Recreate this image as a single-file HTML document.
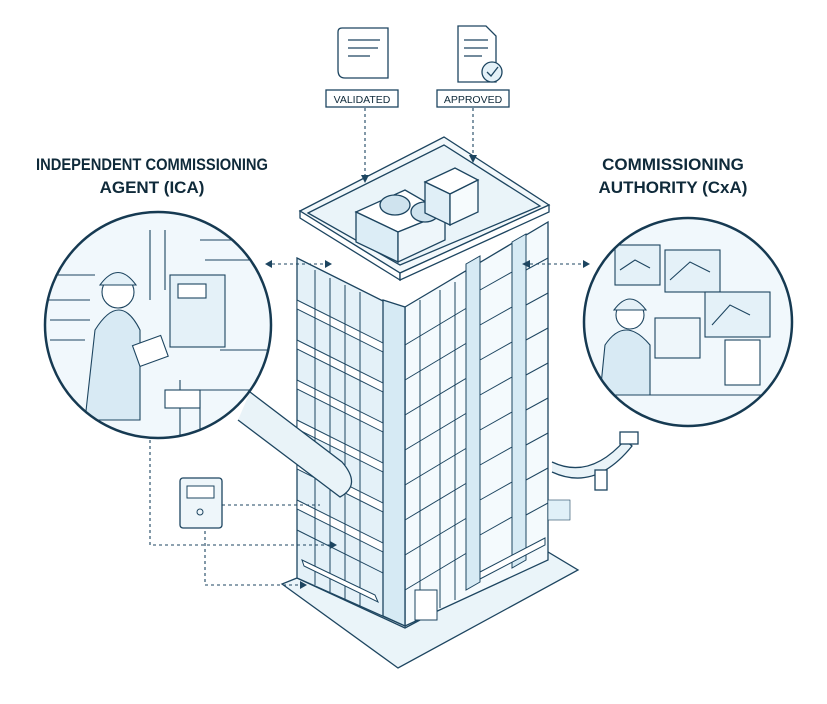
<!DOCTYPE html>
<html><head><meta charset="utf-8"><style>
html,body{margin:0;padding:0;background:#fff}
svg{display:block}
text{font-family:"Liberation Sans",sans-serif;fill:#0f2a3a}
</style></head><body>
<svg width="827" height="704" viewBox="0 0 827 704" xmlns="http://www.w3.org/2000/svg">
<defs>
<clipPath id="cl"><circle cx="158" cy="325" r="113"/></clipPath>
<clipPath id="cr"><circle cx="688" cy="322" r="104"/></clipPath>
</defs>
<g stroke="#1d4560" stroke-width="1.3" fill="none">
<polygon points="282,584 398,668 578,570 548,552 405,628 297,578" fill="#eaf4f9"/>
<polygon points="297,258 395,307 405,626 297,578" fill="#e4f1f8"/>
<polygon points="405,307 548,222 548,560 405,626" fill="#f4fafd"/>
<polygon points="383,300 405,307 405,626 383,616" fill="#d6eaf4"/>
<g stroke-width="1">
<polygon points="297,300 383,343 383,352 297,309" fill="#fff"/>
<polygon points="297,340 383,383 383,392 297,349" fill="#fff"/>
<polygon points="297,380 383,423 383,432 297,389" fill="#fff"/>
<polygon points="297,420 383,463 383,472 297,429" fill="#fff"/>
<polygon points="297,460 383,503 383,512 297,469" fill="#fff"/>
<polygon points="297,500 383,543 383,552 297,509" fill="#fff"/>
<line x1="297" y1="530" x2="383" y2="573"/>
<line x1="315" y1="270" x2="315" y2="585"/><line x1="330" y1="278" x2="330" y2="592"/>
<line x1="345" y1="285" x2="345" y2="599"/><line x1="360" y1="292" x2="360" y2="606"/>
<line x1="405" y1="345" x2="470" y2="306"/><line x1="405" y1="380" x2="470" y2="341"/>
<line x1="405" y1="415" x2="470" y2="376"/><line x1="405" y1="450" x2="470" y2="411"/>
<line x1="405" y1="485" x2="470" y2="446"/><line x1="405" y1="520" x2="470" y2="481"/>
<line x1="405" y1="555" x2="470" y2="516"/><line x1="405" y1="590" x2="470" y2="551"/>
<line x1="420" y1="300" x2="420" y2="618"/><line x1="440" y1="290" x2="440" y2="608"/>
<line x1="455" y1="282" x2="455" y2="600"/>
<polygon points="466,264 480,256 480,582 466,590" fill="#d6eaf4"/>
<polygon points="512,242 526,234 526,560 512,568" fill="#d6eaf4"/>
<line x1="480" y1="290" x2="512" y2="272"/><line x1="480" y1="325" x2="512" y2="307"/>
<line x1="480" y1="360" x2="512" y2="342"/><line x1="480" y1="395" x2="512" y2="377"/>
<line x1="480" y1="430" x2="512" y2="412"/><line x1="480" y1="465" x2="512" y2="447"/>
<line x1="480" y1="500" x2="512" y2="482"/><line x1="480" y1="535" x2="512" y2="517"/>
<line x1="526" y1="270" x2="548" y2="258"/><line x1="526" y1="305" x2="548" y2="293"/>
<line x1="526" y1="340" x2="548" y2="328"/><line x1="526" y1="375" x2="548" y2="363"/>
<line x1="526" y1="410" x2="548" y2="398"/><line x1="526" y1="445" x2="548" y2="433"/>
<line x1="526" y1="480" x2="548" y2="468"/><line x1="526" y1="515" x2="548" y2="503"/>
<rect x="415" y="590" width="22" height="30" fill="#fff"/>
<polygon points="302,560 375,595 378,602 304,566" fill="#fff"/>
<polygon points="480,572 545,538 545,545 480,579" fill="#fff"/>
</g>
<polygon points="300,211 444,137 549,205 400,273" fill="#f2f8fb"/>
<polygon points="308,213 444,145 540,206 400,265" fill="#eaf4f9"/>
<polygon points="300,211 400,273 400,280 300,218" fill="#fff"/>
<polygon points="400,273 549,205 549,212 400,280" fill="#fff"/>
<polygon points="356,212 405,190 445,213 398,232" fill="#fff"/>
<polygon points="356,212 398,232 398,262 356,242" fill="#dcedf6"/>
<polygon points="398,232 445,213 445,240 398,262" fill="#eef6fa"/>
<ellipse cx="395" cy="205" rx="15" ry="10" fill="#cfe3ee"/>
<ellipse cx="425" cy="212" rx="14" ry="10" fill="#cfe3ee"/>
<polygon points="425,182 455,168 478,180 450,194" fill="#fff"/>
<polygon points="425,182 450,194 450,225 425,213" fill="#e0eff7"/>
<polygon points="450,194 478,180 478,212 450,225" fill="#f6fbfd"/>
<path d="M250,392 L342,462 Q362,485 340,497 L238,420" fill="#e9f3f8"/>
<path d="M552,462 Q590,480 625,440 L632,446 Q595,492 552,472" fill="#e9f3f8"/>
<rect x="595" y="470" width="12" height="20" fill="#fff"/>
<rect x="620" y="432" width="18" height="12" fill="#fff"/>
<rect x="548" y="500" width="22" height="20" stroke-width="0.6" fill="#e0f0f8"/>
</g>
<circle cx="158" cy="325" r="113" fill="#f1f8fc"/>
<g clip-path="url(#cl)" stroke="#1d4560" stroke-width="1.1" fill="none">
<path d="M40,275 H95 M40,300 H90 M150,230 V300 M165,230 V290 M200,240 H260 M205,260 H260 M220,350 H270 M180,380 V440 M195,390 H260 M200,400 V440 M50,320 H90 M50,340 H85"/>
<rect x="170" y="275" width="55" height="72" fill="#e4f1f8"/>
<rect x="178" y="284" width="28" height="14" fill="#fff"/>
<path d="M95,330 Q120,290 140,330 V420 H85 Z" fill="#d8eaf4"/>
<circle cx="118" cy="292" r="16" fill="#fff"/>
<path d="M100,285 Q118,260 136,285 Z" fill="#e4f1f8"/>
<rect x="135" y="340" width="30" height="22" fill="#fff" transform="rotate(-20 150 350)"/>
<rect x="165" y="390" width="35" height="18" fill="#fff"/>
</g>
<circle cx="158" cy="325" r="113" stroke="#163a52" stroke-width="2.5" fill="none"/>
<circle cx="688" cy="322" r="104" fill="#f1f8fc"/>
<g clip-path="url(#cr)" stroke="#1d4560" stroke-width="1.1" fill="none">
<rect x="615" y="245" width="45" height="40" fill="#e4f1f8"/>
<rect x="665" y="250" width="55" height="42" fill="#e4f1f8"/>
<rect x="705" y="292" width="65" height="45" fill="#e4f1f8"/>
<rect x="655" y="318" width="45" height="40" fill="#eef6fa"/>
<rect x="725" y="340" width="35" height="45" fill="#fff"/>
<path d="M620,270 L635,260 L650,268 M670,280 L690,262 L710,272 M712,325 L730,305 L750,315"/>
<path d="M605,345 Q625,315 650,345 V395 H600 Z" fill="#d8eaf4"/>
<circle cx="630" cy="315" r="14" fill="#fff"/>
<path d="M614,310 Q630,288 646,310 Z" fill="#e4f1f8"/>
<path d="M590,395 H790"/>
</g>
<circle cx="688" cy="322" r="104" stroke="#163a52" stroke-width="2.5" fill="none"/>
<g stroke="#1d4560" stroke-width="1.1" fill="none" stroke-dasharray="3,3">
<path d="M365,108 V175"/><path d="M473,108 V155"/>
<path d="M272,264 H325"/>
<path d="M530,264 H585"/>
<path d="M150,440 V545 H330"/>
<path d="M205,525 V585 H300"/>
<path d="M222,505 H320"/>
</g>
<g fill="#1d4560">
<polygon points="361,175 369,175 365,183"/><polygon points="469,155 477,155 473,163"/>
<polygon points="265,264 272,260 272,268"/><polygon points="332,264 325,260 325,268"/>
<polygon points="522,264 530,260 530,268"/><polygon points="590,264 583,260 583,268"/>
<polygon points="300,581 300,589 307,585"/><polygon points="330,541 330,549 337,545"/>
</g>
<rect x="180" y="478" width="42" height="50" rx="3" fill="#eef6fa" stroke="#1d4560" stroke-width="1.3"/>
<rect x="187" y="486" width="27" height="12" fill="#fff" stroke="#1d4560"/>
<circle cx="200" cy="512" r="3" fill="none" stroke="#1d4560"/>
<g stroke="#1d4560" stroke-width="1.3" fill="#fff">
<path d="M342,28 H388 V78 H345 Q338,78 338,70 V32 Q338,28 342,28 Z"/>
<path d="M348,40 H380 M348,48 H378 M348,56 H370"/>
<path d="M458,26 H486 L496,36 V82 H458 Z"/>
<path d="M464,40 H488 M464,48 H488 M464,56 H482"/>
<circle cx="492" cy="72" r="10" fill="#e4f1f8"/>
<path d="M487,72 L491,76 L498,67" fill="none"/>
<rect x="326" y="90" width="72" height="17"/>
<rect x="437" y="90" width="72" height="17"/>
</g>
<text x="362" y="103" font-size="10.5" text-anchor="middle">VALIDATED</text>
<text x="473" y="103" font-size="10.5" text-anchor="middle">APPROVED</text>
<text x="152" y="170" font-size="17" font-weight="bold" text-anchor="middle" textLength="232" lengthAdjust="spacingAndGlyphs">INDEPENDENT COMMISSIONING</text>
<text x="152" y="193" font-size="17" font-weight="bold" text-anchor="middle">AGENT (ICA)</text>
<text x="673" y="170" font-size="17" font-weight="bold" text-anchor="middle">COMMISSIONING</text>
<text x="673" y="193" font-size="17" font-weight="bold" text-anchor="middle">AUTHORITY (CxA)</text>
</svg>
</body></html>
